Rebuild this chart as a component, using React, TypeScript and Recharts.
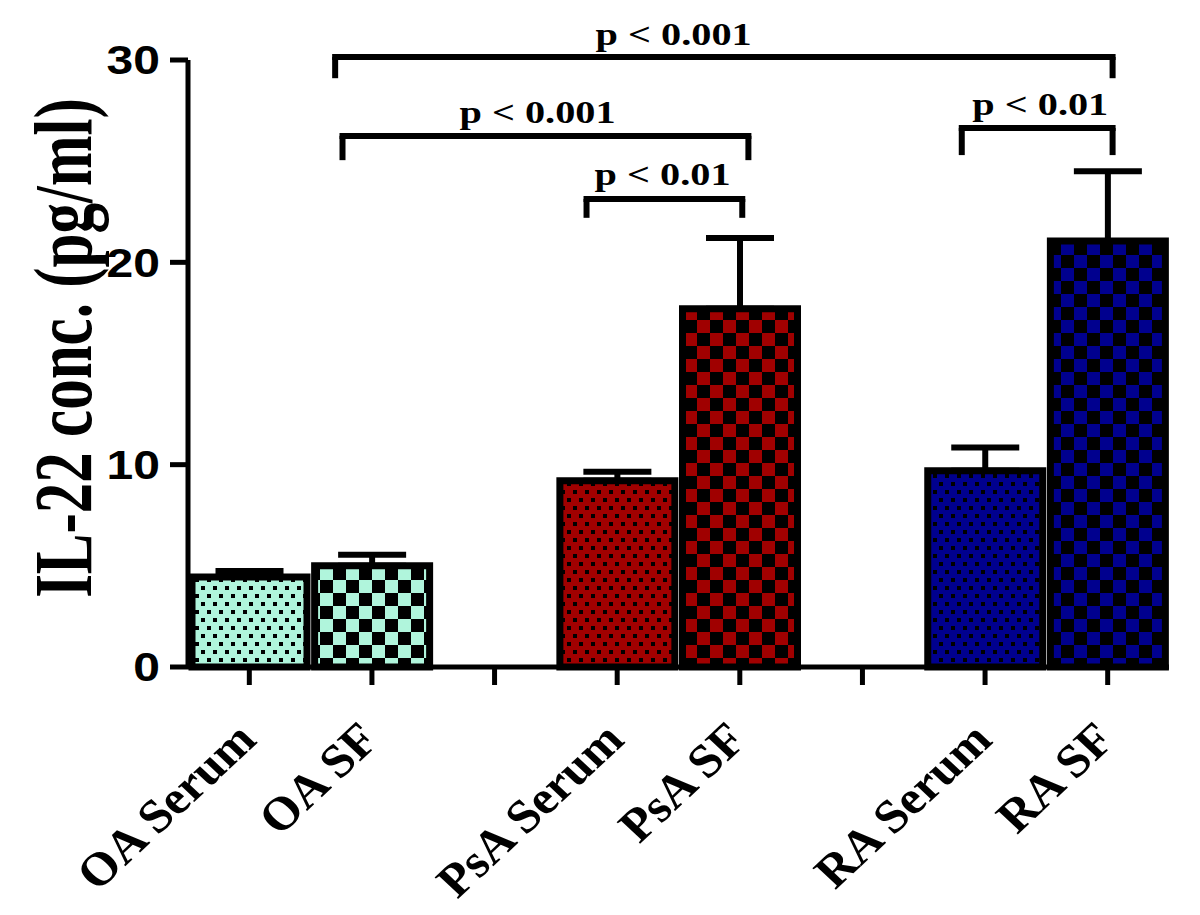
import { BarChart, Bar, XAxis, YAxis, ErrorBar, Cell, ReferenceLine, ReferenceDot } from 'recharts'

// groups on the x axis (blank ones are the spacers between diseases)
const groups = ['OA Serum', 'OA SF', '', 'PsA Serum', 'PsA SF', ' ', 'RA Serum', 'RA SF']
const means = [4.45, 5.0, null, 9.2, 17.7, null, 9.7, 21.05]
const sems = [0.3, 0.55, null, 0.45, 3.5, null, 1.15, 3.45]
const yTicks = [0, 10, 20, 30]

// significance brackets, x in category units (0..8), y in pg/ml
const bracketFrom = [1.2, 1.26, 3.25, 6.31]
const bracketTo = [7.54, 4.57, 4.52, 7.54]
const bracketTop = [30.15, 26.25, 23.13, 26.64]
const bracketFoot = [29.1, 25.05, 22.2, 25.3]
const pLabels = ['p < 0.001', 'p < 0.001', 'p < 0.01', 'p < 0.01']
const pLabelX = [3.96, 2.85, 3.87, 6.95]
const pLabelY = [30.75, 26.9, 23.8, 27.3]

const fills = [
  'url(#dotMint)', 'url(#chkMint)', 'none',
  'url(#dotRed)', 'url(#chkRed)', 'none',
  'url(#dotBlue)', 'url(#chkBlue)',
]

const data = groups.map((g, i) => ({
  group: g,
  pos: i + 0.5,
  value: means[i],
  err: sems[i] == null ? null : [0, sems[i]],
}))

const SERIF = '"Liberation Serif", "Times New Roman", serif'
const SANS = '"Liberation Sans", Arial, sans-serif'

function DotPattern({ id, color }: { id: string; color: string }) {
  return (
    <pattern id={id} patternUnits="userSpaceOnUse" width={12} height={16}>
      <rect width={12} height={16} fill={color} />
      <rect x={1} y={2} width={4} height={4} fill="#000" />
      <rect x={7} y={10} width={4} height={4} fill="#000" />
    </pattern>
  )
}

function CheckPattern({ id, color }: { id: string; color: string }) {
  return (
    <pattern id={id} patternUnits="userSpaceOnUse" width={26} height={26}>
      <rect width={26} height={26} fill={color} />
      <rect x={0} y={0} width={13} height={13} fill="#000" />
      <rect x={13} y={13} width={13} height={13} fill="#000" />
    </pattern>
  )
}

const YTick = ({ x, y, payload }: any) => (
  <g transform={`translate(${x},${y}) scale(1.2,1)`}>
    <text textAnchor="end" dy="0.36em" fontFamily={SANS} fontWeight="bold" fontSize={40} fill="#000">
      {payload.value}
    </text>
  </g>
)

const XTick = ({ x, y, payload }: any) => (
  <g transform={`translate(${x + 9},${y + 55}) scale(1.07,1) rotate(-45)`}>
    <text textAnchor="end" fontFamily={SERIF} fontWeight="bold" fontSize={47} fill="#000">
      {payload.value}
    </text>
  </g>
)

export default function App() {
  return (
    <div style={{ width: 1190, height: 905, position: 'relative', background: '#fff' }}>
      <svg width={0} height={0} style={{ position: 'absolute' }}>
        <defs>
          <DotPattern id="dotMint" color="#b0f5dc" />
          <CheckPattern id="chkMint" color="#b0f5dc" />
          <DotPattern id="dotRed" color="#a00000" />
          <CheckPattern id="chkRed" color="#a00000" />
          <DotPattern id="dotBlue" color="#00008e" />
          <CheckPattern id="chkBlue" color="#00008e" />
        </defs>
      </svg>
      <BarChart
        width={1190}
        height={905}
        data={data}
        margin={{ top: 52, right: 29, left: 0, bottom: 6 }}
        barCategoryGap={0}
      >
        <XAxis
          dataKey="group"
          height={240}
          interval={0}
          axisLine={{ stroke: '#000', strokeWidth: 5 }}
          tickLine={{ stroke: '#000', strokeWidth: 5 }}
          tickSize={18}
          tickMargin={2}
          tick={<XTick />}
        />
        <XAxis xAxisId="n" dataKey="pos" type="number" domain={[0, 8]} allowDataOverflow hide />
        <YAxis
          width={180}
          domain={[0, 30]}
          ticks={yTicks}
          axisLine={{ stroke: '#000', strokeWidth: 5 }}
          tickLine={{ stroke: '#000', strokeWidth: 5 }}
          tickSize={18}
          tickMargin={10}
          tick={<YTick />}
          label={{
            content: () => (
              <g transform="translate(83,340) scale(1.35,1) rotate(-90)">
                <text textAnchor="middle" fontFamily={SERIF} fontWeight="bold" fontSize={61} fill="#000">
                  IL-22 conc. (pg/ml)
                </text>
              </g>
            ),
          }}
        />
        <Bar dataKey="value" barSize={115} stroke="#000" strokeWidth={7} isAnimationActive={false}>
          {data.map((d, i) => (
            <Cell key={i} fill={fills[i]} />
          ))}
          <ErrorBar dataKey="err" direction="y" width={34} stroke="#000" strokeWidth={6} />
        </Bar>
        {bracketFrom.map((x0, i) => (
          <ReferenceLine
            key={`h${i}`}
            xAxisId="n"
            ifOverflow="visible"
            stroke="#000"
            strokeWidth={6}
            strokeLinecap="square"
            segment={[{ x: x0, y: bracketTop[i] }, { x: bracketTo[i], y: bracketTop[i] }]}
          />
        ))}
        {bracketFrom.map((x0, i) => (
          <ReferenceLine
            key={`l${i}`}
            xAxisId="n"
            ifOverflow="visible"
            stroke="#000"
            strokeWidth={6}
            segment={[{ x: x0, y: bracketTop[i] }, { x: x0, y: bracketFoot[i] }]}
          />
        ))}
        {bracketTo.map((x1, i) => (
          <ReferenceLine
            key={`r${i}`}
            xAxisId="n"
            ifOverflow="visible"
            stroke="#000"
            strokeWidth={6}
            segment={[{ x: x1, y: bracketTop[i] }, { x: x1, y: bracketFoot[i] }]}
          />
        ))}
        {pLabels.map((t, i) => (
          <ReferenceDot
            key={`p${i}`}
            xAxisId="n"
            x={pLabelX[i]}
            y={pLabelY[i]}
            ifOverflow="visible"
            shape={(p: any) => (
              <g transform={`translate(${p.cx},${p.cy}) scale(1.3,1)`}>
                <text textAnchor="middle" fontFamily={SERIF} fontWeight="bold" fontSize={31} fill="#000">
                  {t}
                </text>
              </g>
            )}
          />
        ))}
      </BarChart>
    </div>
  )
}
